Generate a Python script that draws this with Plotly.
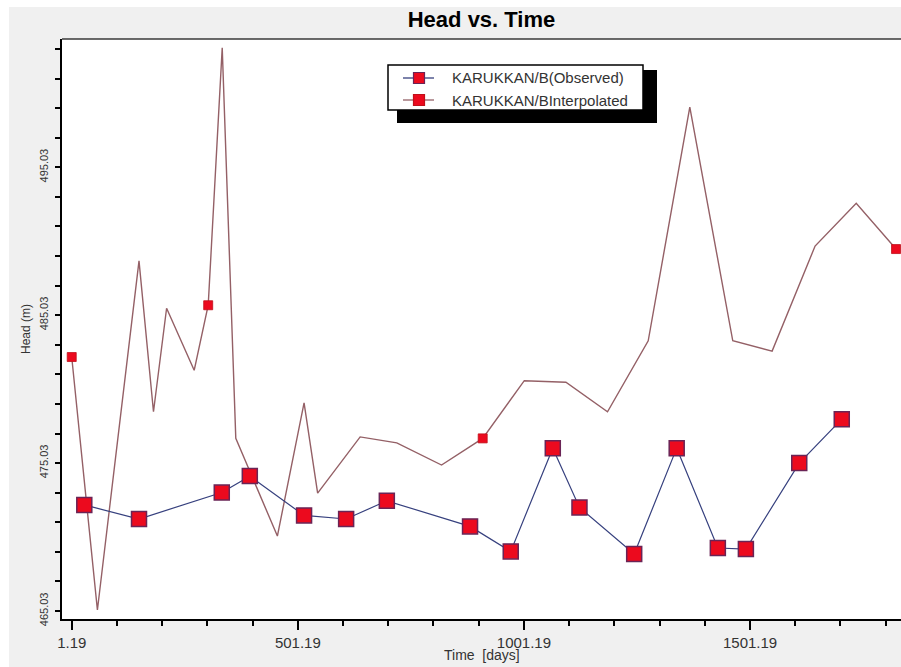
"""Head vs. Time: observed and interpolated heads at KARUKKAN/B."""

import plotly.graph_objects as go

OBS_LINE = "#36407e"
OBS_EDGE = "#6a2456"
MARK_FILL = "#ec0a1e"
INTERP_LINE = "#946066"
PAPER_GREY = "#f0f0f0"
TEXT = "#333333"
FONT = "Arial, Liberation Sans, sans-serif"

# observed heads (days, m)
obs_days = [29, 150, 333, 395, 515, 608, 698, 882, 972, 1065, 1124,
            1245, 1339, 1430, 1492, 1610, 1704]
obs_head = [472.2, 471.25, 473.04, 474.15, 471.49, 471.25, 472.48, 470.75,
            469.06, 476.04, 472.03, 468.88, 476.04, 469.29, 469.22, 475.03,
            478.0]

# interpolated head series
interp_days = [1.19, 58, 150, 182, 211, 272, 303, 334, 364, 456, 515, 545,
               639, 720, 819, 910, 1002, 1094, 1186, 1276, 1368, 1463, 1550,
               1645, 1736, 1824]
interp_head = [482.2, 465.1, 488.7, 478.5, 485.5, 481.3, 485.7, 503.1, 476.7,
               470.1, 479.1, 473.0, 476.8, 476.4, 474.9, 476.7, 480.6, 480.5,
               478.5, 483.3, 499.1, 483.3, 482.6, 489.7, 492.6, 489.5]
# points of the interpolated series that carry a marker
interp_marked = [True, False, False, False, False, False, True, False, False,
                 False, False, False, False, False, False, True, False, False,
                 False, False, False, False, False, False, False, True]

x_ticks = [1.19, 501.19, 1001.19, 1501.19]
y_ticks = [465.03, 475.03, 485.03, 495.03]
legend_names = ["KARUKKAN/B(Observed)", "KARUKKAN/BInterpolated"]

W, H = 901, 667
L, R, T, B = 62, 0, 39, 48


def px(x, y):
    """Window pixel -> paper coords (paper spans the plot area)."""
    return (x - L) / (W - L - R), (H - B - y) / (H - T - B)


def rect(x0, y0, x1, y1, **kw):
    a, b = px(x0, y1)
    c, d = px(x1, y0)
    return dict(type="rect", xref="paper", yref="paper",
                x0=a, y0=b, x1=c, y1=d, **kw)


fig = go.Figure()
fig.add_trace(go.Scatter(x=interp_days, y=interp_head, mode="lines",
                         line=dict(color=INTERP_LINE, width=1.4),
                         hoverinfo="skip"))
mx = [d for d, m in zip(interp_days, interp_marked) if m]
my = [h for h, m in zip(interp_head, interp_marked) if m]
fig.add_trace(go.Scatter(x=mx, y=my, mode="markers",
                         marker=dict(symbol="square", size=9, color=MARK_FILL,
                                     line=dict(color="#c0101a", width=0.8)),
                         hoverinfo="skip"))
fig.add_trace(go.Scatter(x=obs_days, y=obs_head, mode="lines+markers",
                         line=dict(color=OBS_LINE, width=1.2),
                         marker=dict(symbol="square", size=15, color=MARK_FILL,
                                     line=dict(color=OBS_EDGE, width=1.5)),
                         hoverinfo="skip"))

shapes = [
    # white strips along the top and left edges of the window
    rect(0, 0, W, 7, fillcolor="white", line=dict(width=0), layer="below"),
    rect(0, 0, 9, H, fillcolor="white", line=dict(width=0), layer="below"),
    dict(type="line", xref="paper", yref="paper", x0=0, x1=1, y0=1, y1=1,
         line=dict(color="#3a3a3a", width=1.5)),
    # legend box with its drop shadow
    rect(397, 70, 657, 123, fillcolor="black", line=dict(width=0)),
    rect(388, 65, 643, 110, fillcolor="white", line=dict(color="black", width=1.5)),
]
annotations = []
rows = [(78, OBS_LINE, OBS_EDGE, 11), (100, INTERP_LINE, "#c0101a", 11)]
for (ry, lc, ec, s), name in zip(rows, legend_names):
    a, b = px(403, ry)
    c, _ = px(434, ry)
    shapes.append(dict(type="line", xref="paper", yref="paper",
                       x0=a, x1=c, y0=b, y1=b, line=dict(color=lc, width=1.3)))
    shapes.append(rect(419 - s / 2, ry - s / 2, 419 + s / 2, ry + s / 2,
                       fillcolor=MARK_FILL, line=dict(color=ec, width=1.2)))
    tx, ty = px(450, ry)
    annotations.append(dict(text=name, xref="paper", yref="paper", x=tx, y=ty,
                            xanchor="left", yanchor="middle", showarrow=False,
                            font=dict(size=15, color=TEXT, family=FONT)))

# x axis title, placed by hand so it sits just under the tick labels
_, xt_y = px(0, 655)
annotations.append(dict(text="Time \u00a0[days]", xref="paper", yref="paper",
                        x=0.5, y=xt_y, xanchor="center", yanchor="middle",
                        showarrow=False, font=dict(size=14, color=TEXT, family=FONT)))

fig.update_layout(
    width=W, height=H,
    margin=dict(l=L, r=R, t=T, b=B, pad=0, autoexpand=False),
    paper_bgcolor=PAPER_GREY, plot_bgcolor="white",
    showlegend=False,
    font=dict(family=FONT, color=TEXT),
    title=dict(text="<b>Head vs. Time</b>", x=(L + (W - L - R) / 2) / W,
               xanchor="center", y=1 - 19 / H, yanchor="middle",
               font=dict(size=22, color="black", family=FONT)),
    shapes=shapes, annotations=annotations,
    xaxis=dict(
        range=[-20.3, 1835], showgrid=False, zeroline=False, automargin=False,
        showline=True, linecolor="black", linewidth=2,
        tickvals=x_ticks, ticktext=[f"{v:.2f}" for v in x_ticks],
        ticks="outside", ticklen=9, tickwidth=1.5, tickcolor="black",
        tickfont=dict(size=15, color=TEXT),
        minor=dict(tick0=1.19, dtick=100, ticks="outside", ticklen=5,
                   tickwidth=1.5, tickcolor="black", showgrid=False),
    ),
    yaxis=dict(
        range=[464.49, 503.7], showgrid=False, zeroline=False, automargin=False,
        showline=True, linecolor="black", linewidth=2,
        tickvals=y_ticks, ticktext=[f"{v:.2f}" for v in y_ticks],
        tickangle=-90, ticklabelstandoff=3,
        ticks="outside", ticklen=5, tickwidth=1.5, tickcolor="black",
        tickfont=dict(size=11, color=TEXT),
        minor=dict(tick0=465.03, dtick=2, ticks="outside", ticklen=5,
                   tickwidth=1.5, tickcolor="black", showgrid=False),
        title=dict(text="Head (m)", standoff=4,
                   font=dict(size=12, color=TEXT)),
    ),
)

# drop the page's default body margin so the figure fills the window exactly
fig.write_html("out.html",
               config={"displayModeBar": False},
               post_script="document.body.style.margin='0';"
                           "document.body.style.overflow='hidden';")
